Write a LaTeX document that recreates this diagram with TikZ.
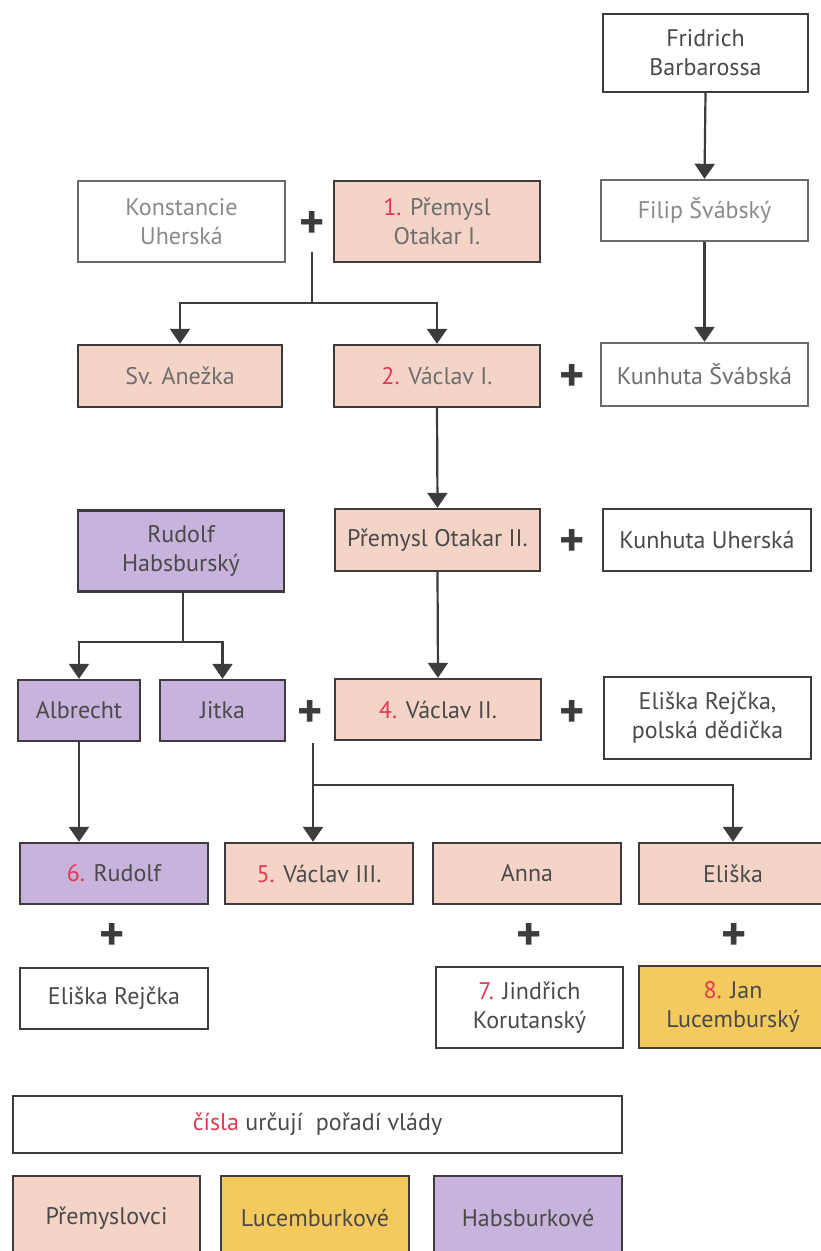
\documentclass[tikz,border=0pt]{standalone}
\usepackage{fontspec}
\setmainfont{PT Sans}
\usetikzlibrary{arrows.meta}
\definecolor{pinkc}{HTML}{F4D4C7}
\definecolor{purplec}{HTML}{C7B3DC}
\definecolor{yellowc}{HTML}{F4C95D}
\definecolor{numred}{HTML}{E63850}
\definecolor{edgec}{HTML}{3C3C3C}
\definecolor{lightedge}{HTML}{6A6A6A}
\definecolor{txt}{HTML}{4A4A4A}
\definecolor{fadetxt}{HTML}{8A8A8A}
\definecolor{midtxt}{HTML}{6E6E6E}
\tikzset{
  box/.style={draw=edgec, line width=2.4pt, fill=white, align=center, text=txt,
    inner sep=0pt, font=\fontsize{24}{29}\selectfont},
  prem/.style={box, fill=pinkc},
  habs/.style={box, fill=purplec},
  luc/.style={box, fill=yellowc},
  faded/.style={draw=lightedge, text=fadetxt},
  plus/.style={text=edgec, font=\fontsize{48}{48}\selectfont\bfseries, inner sep=0pt},
  conn/.style={draw=edgec, line width=2.2pt},
  arr/.style={conn, -{Triangle[length=15pt,width=20pt]}},
}
\newcommand{\nr}[1]{\textcolor{numred}{#1}}
\begin{document}
\begin{tikzpicture}[x=1pt,y=-1pt]
\useasboundingbox[fill=white] (0,0) rectangle (820,1251);
% row 0
\node[box, minimum width=205pt, minimum height=78pt] (fb) at (705.5,53) {Fridrich\\Barbarossa};
% row 1
\node[box, faded, minimum width=207pt, minimum height=81pt] (ku) at (181.5,221.5) {Konstancie\\Uherská};
\node[plus] (p1) at (312,225) {+};
\node[prem, text=midtxt, minimum width=206pt, minimum height=81pt] (po1) at (437,221.5) {\nr{1.} Přemysl\\Otakar I.};
\node[box, faded, minimum width=207pt, minimum height=61pt] (fs) at (704.5,210.5) {Filip Švábský};
% row 2
\node[prem, text=midtxt, minimum width=204pt, minimum height=62pt] (sa) at (180,376) {Sv. Anežka};
\node[prem, text=midtxt, minimum width=206pt, minimum height=62pt] (v1) at (437,376) {\nr{2.} Václav I.};
\node[plus] (p2) at (572,378) {+};
\node[box, draw=lightedge, text=midtxt, minimum width=207pt, minimum height=63pt] (ks) at (704.5,374.5) {Kunhuta Švábská};
% row 3
\node[habs, minimum width=206pt, minimum height=81pt] (rh) at (181,551) {Rudolf\\Habsburský};
\node[prem, minimum width=205pt, minimum height=62pt] (po2) at (437.5,540) {Přemysl Otakar II.};
\node[plus] (p3) at (572,543) {+};
\node[box, minimum width=208pt, minimum height=62pt] (kuh) at (707,540) {Kunhuta Uherská};
% row 4
\node[habs, minimum width=122pt, minimum height=61pt] (al) at (79,710.5) {Albrecht};
\node[habs, minimum width=125pt, minimum height=61pt] (ji) at (222.5,710.5) {Jitka};
\node[plus] (p4) at (310,714) {+};
\node[prem, minimum width=206pt, minimum height=61pt] (v2) at (438,709.5) {\nr{4.} Václav II.};
\node[plus] (p5) at (572,714) {+};
\node[box, minimum width=207pt, minimum height=82pt] (er) at (707.5,718) {Eliška Rejčka,\\polská dědička};
% row 5
\node[habs, minimum width=188pt, minimum height=61pt] (r6) at (114,873.5) {\nr{6.} Rudolf};
\node[prem, minimum width=188pt, minimum height=61pt] (v3) at (319,873.5) {\nr{5.} Václav III.};
\node[prem, minimum width=188pt, minimum height=61pt] (an) at (527,873.5) {Anna};
\node[prem, minimum width=188pt, minimum height=61pt] (el) at (733,873.5) {Eliška};
% pluses row 6
\node[plus] (p6) at (112,937) {+};
\node[plus] (p7) at (529,937) {+};
\node[plus] (p8) at (734,937) {+};
% row 7
\node[box, minimum width=188pt, minimum height=61pt] (ej) at (114,998.5) {Eliška Rejčka};
\node[box, minimum width=187pt, minimum height=81pt] (jk) at (529.5,1007.5) {\nr{7.} Jindřich\\Korutanský};
\node[luc, minimum width=188pt, minimum height=82pt] (jl) at (733,1007) {\nr{8.} Jan\\Lucemburský};
% legend
\node[box, minimum width=609pt, minimum height=57pt] (leg) at (317.5,1124.5) {\nr{čísla} určují~ pořadí vlády};
\node[prem, minimum width=187pt, minimum height=84pt] (lp) at (106.5,1218) {Přemyslovci};
\node[luc, minimum width=188pt, minimum height=84pt] (lc) at (315,1218) {Lucemburkové};
\node[habs, minimum width=188pt, minimum height=84pt] (lh) at (528,1218) {Habsburkové};
% connectors
\draw[arr] (fb.south) -- (fs.north);
\draw[arr] (fs.south) -- (ks.north);
\coordinate (s1) at (312,252);
\coordinate (j1) at (312,303);
\draw[conn] (s1) -- (j1);
\draw[arr] (j1) -| (sa.north);
\draw[arr] (j1) -| (v1.north);
\draw[arr] (v1.south) -- (po2.north);
\draw[arr] (po2.south) -- (v2.north);
\coordinate (j2) at (183,642);
\draw[conn] (rh.south -| j2) -- (j2);
\draw[arr] (j2) -| (al.north);
\draw[arr] (j2) -| (ji.north);
\draw[arr] (al.south) -- (al.south |- r6.north);
\coordinate (s4) at (313,743);
\coordinate (j3) at (313,785);
\draw[conn] (s4) -- (j3);
\draw[arr] (j3) -- (j3 |- v3.north);
\draw[arr] (j3) -| (el.north);
\end{tikzpicture}
\end{document}
